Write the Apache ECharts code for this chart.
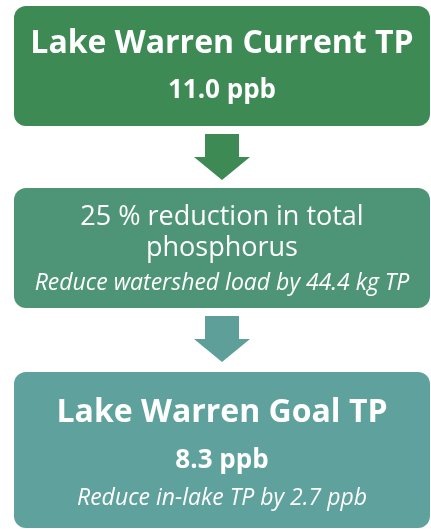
<!DOCTYPE html>
<html>
<head>
    <meta charset="utf-8">
    <script src="https://cdn.jsdelivr.net/npm/echarts@6/dist/echarts.min.js"></script>
    <style>
        html, body { margin: 0; padding: 0; background: #fff; }
    </style>
</head>
<body>

    <div id="main" style="width: 431px;height:529px;"></div>

<script type="text/javascript">
// text of the three steps
var stepTitles = ['Lake Warren Current TP', '25 % reduction in total\nphosphorus', 'Lake Warren Goal TP'];
var stepValues = ['11.0 ppb', '', '8.3 ppb'];
var stepNotes = ['', 'Reduce watershed load by 44.4 kg TP', 'Reduce in-lake TP by 2.7 ppb'];

// layout / style (kept apart from the text)
var boxColors = ['#3d8a54', '#4e9577', '#5fa29d'];
var arrowColors = ['#3d8a54', '#5e9f9a'];
var boxTop = [6, 188, 372];
var boxHeight = [120, 120, 156];
var titleY = [38, 0, 41];
var valueY = [85, 0, 89];
var boxLeft = 14, boxWidth = 416, cx = 222;
var font = '"Open Sans", Lato, sans-serif';

var myChart = echarts.init(document.getElementById('main'), null, { renderer: 'canvas' });

var elements = [];

stepTitles.forEach(function (title, i) {
    elements.push({
        type: 'rect',
        shape: { x: boxLeft, y: boxTop[i], width: boxWidth, height: boxHeight[i], r: 12 },
        style: { fill: boxColors[i] }
    });
});

// first and last boxes: bold title + bold value
[0, 2].forEach(function (i) {
    var t = boxTop[i];
    elements.push({
        type: 'text',
        style: {
            text: stepTitles[i], x: cx, y: t + titleY[i],
            fill: '#fff', font: 'bold 32px ' + font,
            align: 'center', verticalAlign: 'middle'
        }
    });
    elements.push({
        type: 'text',
        style: {
            text: stepValues[i], x: cx, y: t + valueY[i],
            fill: '#fff', font: 'bold 26px ' + font,
            align: 'center', verticalAlign: 'middle'
        }
    });
});

// middle box
elements.push({
    type: 'text',
    style: {
        text: stepTitles[1], x: cx, y: boxTop[1] + 45,
        fill: '#fff', font: '27px ' + font, lineHeight: 31,
        align: 'center', verticalAlign: 'middle'
    }
});
elements.push({
    type: 'text',
    style: {
        text: stepNotes[1], x: cx, y: boxTop[1] + 95,
        fill: '#fff', font: 'italic 23px ' + font,
        align: 'center', verticalAlign: 'middle'
    }
});
elements.push({
    type: 'text',
    style: {
        text: stepNotes[2], x: cx, y: boxTop[2] + 126,
        fill: '#fff', font: 'italic 23px ' + font,
        align: 'center', verticalAlign: 'middle'
    }
});

// down arrows between the boxes
arrowColors.forEach(function (c, i) {
    var y0 = boxTop[i] + boxHeight[i] + 8;
    elements.push({
        type: 'polygon',
        shape: {
            points: [
                [cx - 17, y0], [cx + 17, y0], [cx + 17, y0 + 23], [cx + 28, y0 + 23],
                [cx, y0 + 46], [cx - 28, y0 + 23], [cx - 17, y0 + 23]
            ]
        },
        style: { fill: c }
    });
});

myChart.setOption({
    backgroundColor: '#fff',
    animation: false,
    graphic: { elements: elements }
});
</script>

</body>
</html>
